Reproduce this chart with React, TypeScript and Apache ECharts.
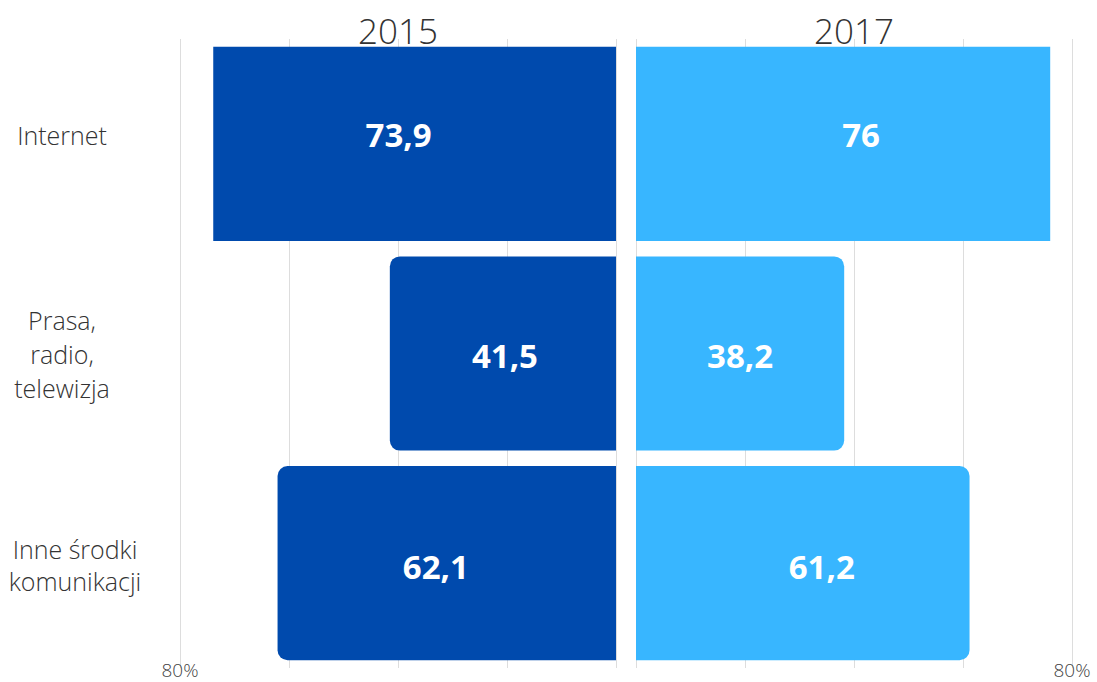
import React, { useEffect, useRef } from "react";
import * as echarts from "echarts";

const categories = ["Internet", "Prasa,\nradio,\ntelewizja", "Inne środki\nkomunikacji"];
const years = ["2015", "2017"];
const values2015 = [73.9, 41.5, 62.1];
const values2017 = [76, 38.2, 61.2];
const axisMax = 80;
const axisInterval = 20;

// styling (not data)
const leftColor = "#004AAD";
const rightColor = "#38B6FF";
const leftLabelOffsets = [[-16, -9], [2, 2], [-11, 3]];
const rightLabelOffsets = [[18, -9], [0, 2], [19, 3]];
const roundedIdx = [false, true, true];
const catRichNames = ["up", "mid", "right"];

const fmt = (v: number) => String(v).replace(".", ",");

export default function App() {
  const ref = useRef<HTMLDivElement>(null);
  useEffect(() => {
    document.body.style.margin = "0";
    const chart = echarts.init(ref.current!, null, { renderer: "svg" });
    const font = "'Open Sans', 'Noto Sans', sans-serif";
    const gridTop = 39;
    const gridBottom = 14;
    const leftGrid = {
      left: 180,
      width: 436,
      top: gridTop,
      bottom: gridBottom,
      containLabel: false,
      outerBoundsMode: "none",
    };
    const rightGrid = {
      left: 636,
      width: 436,
      top: gridTop,
      bottom: gridBottom,
      containLabel: false,
      outerBoundsMode: "none",
    };
    const xCommon = (inverse: boolean, idx: number) => ({
      type: "value",
      gridIndex: idx,
      min: 0,
      max: axisMax,
      interval: axisInterval,
      inverse,
      axisLine: { show: false },
      axisTick: { show: false },
      splitLine: { show: true, lineStyle: { color: "#dddddd", width: 1 } },
      axisLabel: {
        show: true,
        margin: -8,
        fontFamily: font,
        fontSize: 19,
        fontWeight: 300,
        color: "#444444",
        showMinLabel: true,
        showMaxLabel: true,
        formatter: (v: number) => (v === axisMax ? axisMax + "%" : ""),
      },
    });
    const labelStyle = {
      show: true,
      position: "inside",
      color: "#ffffff",
      fontFamily: font,
      fontSize: 33,
      fontWeight: "bold",
      formatter: (p: any) => fmt(p.value),
    };
    const catBase = {
      fontFamily: font,
      fontSize: 25,
      fontWeight: 300,
      lineHeight: 34,
      color: "#333333",
    };
    chart.setOption({
      animation: false,
      grid: [leftGrid, rightGrid],
      xAxis: [xCommon(true, 0), xCommon(false, 1)],
      yAxis: [
        {
          type: "category",
          gridIndex: 0,
          data: categories,
          inverse: true,
          axisLine: { show: false },
          axisTick: { show: false },
          axisLabel: {
            show: true,
            align: "center",
            margin: 118,
            ...catBase,
            formatter: (v: string, i: number) =>
              v
                .split("\n")
                .map((line) => `{${catRichNames[i]}|${line}}`)
                .join("\n"),
            rich: {
              up: { ...catBase, padding: [0, 0, 18, 0] },
              mid: { ...catBase },
              right: { ...catBase, lineHeight: 32, padding: [4, 0, 0, 26] },
            },
          },
        },
        {
          type: "category",
          gridIndex: 1,
          data: categories,
          inverse: true,
          axisLine: { show: false },
          axisTick: { show: false },
          axisLabel: { show: false },
        },
      ],
      graphic: [
        {
          type: "text",
          x: 398,
          y: 30,
          style: {
            text: years[0],
            textAlign: "center",
            textVerticalAlign: "middle",
            fontFamily: font,
            fontSize: 35,
            fontWeight: 300,
            fill: "#333333",
          },
        },
        {
          type: "text",
          x: 854,
          y: 30,
          style: {
            text: years[1],
            textAlign: "center",
            textVerticalAlign: "middle",
            fontFamily: font,
            fontSize: 35,
            fontWeight: 300,
            fill: "#333333",
          },
        },
      ],
      series: [
        {
          type: "bar",
          name: years[0],
          xAxisIndex: 0,
          yAxisIndex: 0,
          barCategoryGap: "7.4%",
          data: values2015.map((v, i) => ({
            value: v,
            itemStyle: {
              color: leftColor,
              borderRadius: roundedIdx[i] ? [10, 0, 0, 10] : 0,
            },
            label: { offset: leftLabelOffsets[i] },
          })),
          label: labelStyle,
        },
        {
          type: "bar",
          name: years[1],
          xAxisIndex: 1,
          yAxisIndex: 1,
          barCategoryGap: "7.4%",
          data: values2017.map((v, i) => ({
            value: v,
            itemStyle: {
              color: rightColor,
              borderRadius: roundedIdx[i] ? [0, 10, 10, 0] : 0,
            },
            label: { offset: rightLabelOffsets[i] },
          })),
          label: labelStyle,
        },
      ],
    });
    return () => chart.dispose();
  }, []);
  return (
    <div
      ref={ref}
      style={{ position: "absolute", left: 0, top: 0, width: 1097, height: 682 }}
    />
  );
}
